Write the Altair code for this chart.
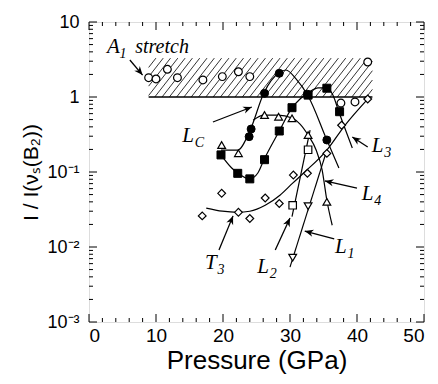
import altair as alt
import pandas as pd
import numpy as np

# ---------------- data ----------------
# A1 stretch (open circles)
a1_x = [8.9, 10.0, 11.7, 13.2, 17.0, 19.9, 22.3, 24.0, 37.6, 39.7, 41.6]
a1_y = [1.81, 1.74, 2.34, 1.81, 1.69, 1.87, 2.17, 1.87, 0.83, 0.86, 2.93]
# Lc (filled circles)
lc_x = [23.9, 24.2, 26.2, 28.4, 32.6, 35.5]
lc_y = [0.296, 0.374, 1.12, 2.07, 1.09, 0.267]
# filled squares
sq_x = [19.7, 22.2, 24.0, 26.2, 28.4, 30.3, 32.7, 35.5, 37.4]
sq_y = [0.169, 0.096, 0.081, 0.146, 0.352, 0.72, 1.06, 1.31, 0.637]
# open up-triangles
tu_x = [19.8, 22.3, 26.2, 28.3, 30.3, 32.7, 35.5]
tu_y = [0.229, 0.178, 0.575, 0.546, 0.52, 0.311, 0.040]
# open squares (L2)
os_x = [30.4, 32.7]
os_y = [0.036, 0.198]
# open down-triangles (L1)
td_x = [30.4, 32.7]
td_y = [0.0072, 0.035]
# open diamonds (T3)
di_x = [16.9, 19.8, 22.3, 24.0, 26.3, 28.4, 30.5, 32.6, 35.5, 37.7, 41.6]
di_y = [0.026, 0.052, 0.029, 0.024, 0.045, 0.038, 0.091, 0.096, 0.177, 0.42, 0.94]

# guide curves
lc_cx = [19.7, 22.2, 24.0, 26.1, 28.4, 29.4, 30.9, 32.7, 35.5, 37.3]
lc_cy = [0.196, 0.196, 0.352, 1.13, 2.12, 2.29, 1.74, 1.03, 0.267, 0.113]
sq_cx = [19.7, 21.3, 22.2, 24.0, 25.2, 26.1, 28.4, 30.3, 31.5, 32.7, 34.2, 35.5, 36.4, 37.3, 39.3]
sq_cy = [0.169, 0.113, 0.097, 0.081, 0.097, 0.145, 0.352, 0.714, 0.94, 1.13, 1.32, 1.32, 1.06, 0.63, 0.209]
tu_cx = [24.5, 26.1, 28.2, 30.3, 31.5, 32.7, 33.9, 34.8, 35.5, 36.3]
tu_cy = [0.49, 0.575, 0.575, 0.525, 0.436, 0.311, 0.196, 0.106, 0.042, 0.0195]
t3_cx = [17.5, 19.9, 22.2, 24.0, 26.3, 28.5, 30.4, 32.2, 35.5, 38.2, 41.6]
t3_cy = [0.033, 0.030, 0.029, 0.030, 0.036, 0.049, 0.071, 0.10, 0.196, 0.42, 0.94]
l1_cx = [30.0, 35.5]
l1_cy = [0.0054, 0.196]
l2_cx = [30.3, 33.0]
l2_cy = [0.0254, 0.363]

# A1 stretch band
band_x = [8.9, 42.3]
band_y = [1.0, 3.3]

# arrows: tail -> head
arr_x1 = [6.1, 18.5, 19.4, 27.8, 36.6, 40.0, 41.6]
arr_y1 = [3.11, 0.464, 0.0091, 0.0091, 0.0128, 0.061, 0.215]
arr_x2 = [8.0, 24.3, 21.5, 30.0, 32.2, 35.2, 39.3]
arr_y2 = [1.96, 0.736, 0.026, 0.0244, 0.0163, 0.076, 0.293]

# labels
lab_main = ["A", "L", "T", "L", "L", "L", "L"]
lab_sub = ["1", "C", "3", "2", "1", "4", "3"]
lab_x = [2.7, 13.9, 17.3, 25.1, 36.7, 40.7, 42.2]
lab_y = [3.86, 0.251, 0.0051, 0.0045, 0.0083, 0.042, 0.185]
stretch_x = [6.9]
stretch_y = [3.86]

x_ticks = [0, 10, 20, 30, 40, 50]
y_ticks = [0.001, 0.01, 0.1, 1, 10]

# ---------------- geometry helpers ----------------
W, H = 335, 300
PXX = W / 50.0
PXY = H / 4.0

# hatch segments inside the band
slope = 1.28
step = 7.3
bw = (band_x[1] - band_x[0]) * PXX
bh = np.log10(band_y[1] / band_y[0]) * PXY
segs = []
c = -bh / slope
while c < bw:
    u0 = max(c, 0.0)
    v0 = (u0 - c) * slope
    u1 = min(c + bh / slope, bw)
    v1 = (u1 - c) * slope
    if u1 > u0:
        segs.append(dict(x=band_x[0] + u0 / PXX, y=band_y[0] * 10 ** (v0 / PXY),
                         x2=band_x[0] + u1 / PXX, y2=band_y[0] * 10 ** (v1 / PXY)))
    c += step
hatch = pd.DataFrame(segs)

arrows = pd.DataFrame(dict(x=arr_x1, y=arr_y1, x2=arr_x2, y2=arr_y2))
arrows["ang"] = [
    float(np.degrees(np.arctan2(-(np.log10(b2) - np.log10(b1)) * PXY, (a2 - a1) * PXX)) % 360)
    for a1, b1, a2, b2 in zip(arr_x1, arr_y1, arr_x2, arr_y2)
]

xs = alt.Scale(domain=[0, 50], nice=False, zero=False)
ys = alt.Scale(type="log", domain=[0.001, 10], nice=False)

XAXIS = alt.Axis(values=x_ticks, ticks=False, domain=False, grid=False, labelFont="Liberation Sans",
                 labelFontSize=19, labelPadding=4, labelColor="black", title="Pressure (GPa)",
                 titleFont="Liberation Sans", titleFontSize=26, titleFontWeight="normal",
                 titleColor="black", titlePadding=2)
YAXIS = alt.Axis(values=y_ticks, ticks=False, domain=False, grid=False, labelFont="Liberation Sans",
                 labelFontSize=18, labelPadding=10, labelColor="black",
                 labelExpr="datum.value >= 10 ? '10' : datum.value >= 1 ? '1' : datum.value >= 0.1 ? '10⁻¹' : datum.value >= 0.01 ? '10⁻²' : '10⁻³'",
                 title="I / I(νₛ(B₂))", titleFont="Liberation Sans", titleFontSize=21,
                 titleFontWeight="normal", titleColor="black", titleX=-48, titleY=150)


def X(f="x"):
    return alt.X(f, type="quantitative", scale=xs, axis=XAXIS, title="Pressure (GPa)")


def Y(f="y"):
    return alt.Y(f, type="quantitative", scale=ys, axis=YAXIS, title="I / I(νₛ(B₂))")


def pts(xv, yv):
    return pd.DataFrame(dict(x=xv, y=yv))


layers = []

# hatch
layers.append(alt.Chart(hatch).mark_rule(color="black", strokeWidth=0.8).encode(
    x=X(), y=Y(), x2="x2", y2="y2"))
# band bottom line
layers.append(alt.Chart(pd.DataFrame(dict(x=[band_x[0]], x2=[band_x[1]], y=[band_y[0]])))
              .mark_rule(color="black", strokeWidth=1.5).encode(x=X(), x2="x2", y=Y()))

# curves
for cx, cy, interp in [(lc_cx, lc_cy, "monotone"), (sq_cx, sq_cy, "monotone"),
                       (tu_cx, tu_cy, "monotone"), (t3_cx, t3_cy, "monotone"),
                       (l1_cx, l1_cy, "linear"), (l2_cx, l2_cy, "linear")]:
    layers.append(alt.Chart(pts(cx, cy)).mark_line(color="black", strokeWidth=1.2,
                                                  interpolate=interp).encode(x=X(), y=Y()))

# markers
layers.append(alt.Chart(pts(a1_x, a1_y)).mark_point(shape="circle", size=60, filled=True,
              fill="white", stroke="black", strokeWidth=1.2, opacity=1).encode(x=X(), y=Y()))
layers.append(alt.Chart(pts(di_x, di_y)).mark_point(shape="diamond", size=60, filled=True,
              fill="white", stroke="black", strokeWidth=1.2, opacity=1).encode(x=X(), y=Y()))
layers.append(alt.Chart(pts(tu_x, tu_y)).mark_point(shape="triangle-up", size=60, filled=True,
              fill="white", stroke="black", strokeWidth=1.2, opacity=1).encode(x=X(), y=Y()))
layers.append(alt.Chart(pts(td_x, td_y)).mark_point(shape="triangle-down", size=60, filled=True,
              fill="white", stroke="black", strokeWidth=1.2, opacity=1).encode(x=X(), y=Y()))
layers.append(alt.Chart(pts(os_x, os_y)).mark_point(shape="square", size=56, filled=True,
              fill="white", stroke="black", strokeWidth=1.2, opacity=1).encode(x=X(), y=Y()))
layers.append(alt.Chart(pts(sq_x, sq_y)).mark_point(shape="square", size=64, filled=True,
              fill="black", stroke="black", strokeWidth=1, opacity=1).encode(x=X(), y=Y()))
layers.append(alt.Chart(pts(lc_x, lc_y)).mark_point(shape="circle", size=64, filled=True,
              fill="black", stroke="black", strokeWidth=1, opacity=1).encode(x=X(), y=Y()))

# arrows
layers.append(alt.Chart(arrows).mark_rule(color="black", strokeWidth=1.3).encode(
    x=X(), y=Y(), x2="x2", y2="y2"))
layers.append(alt.Chart(arrows).mark_point(shape="M0,0L-1,-0.42L-0.7,0L-1,0.42Z", size=300,
              filled=True, fill="black", strokeWidth=0, opacity=1).encode(
    x=X("x2"), y=Y("y2"), angle=alt.Angle("ang:Q", scale=None)))

# labels
labs = pd.DataFrame(dict(m=lab_main, s=lab_sub, x=lab_x, y=lab_y))
layers.append(alt.Chart(labs).mark_text(align="left", baseline="alphabetic", font="Liberation Serif",
              fontStyle="italic", fontSize=21, color="black").encode(x=X(), y=Y(), text="m"))
layers.append(alt.Chart(labs).mark_text(align="left", baseline="alphabetic", font="Liberation Serif",
              fontStyle="italic", fontSize=14, color="black", dx=12.5, dy=5).encode(x=X(), y=Y(), text="s"))
layers.append(alt.Chart(pd.DataFrame(dict(x=stretch_x, y=stretch_y, t=["stretch"]))).mark_text(
    align="left", baseline="alphabetic", font="Liberation Serif", fontStyle="italic", fontSize=20,
    color="black").encode(x=X(), y=Y(), text="t"))

# ticks (inward, on all four sides)
xmaj = pd.DataFrame(dict(x=x_ticks))
xmin = pd.DataFrame(dict(x=[v for v in range(2, 50, 2) if v % 10]))
ymaj = pd.DataFrame(dict(y=y_ticks))
ymin = pd.DataFrame(dict(y=[k * 10.0 ** e for e in range(-3, 1) for k in range(2, 10)]))

layers.append(alt.Chart(xmaj).mark_rule(color="black", strokeWidth=1).encode(
    x=X(), y=alt.value(H), y2=alt.value(H - 8)))
layers.append(alt.Chart(xmaj).mark_rule(color="black", strokeWidth=1).encode(
    x=X(), y=alt.value(0), y2=alt.value(8)))
layers.append(alt.Chart(xmin).mark_rule(color="black", strokeWidth=1).encode(
    x=X(), y=alt.value(H), y2=alt.value(H - 4)))
layers.append(alt.Chart(xmin).mark_rule(color="black", strokeWidth=1).encode(
    x=X(), y=alt.value(0), y2=alt.value(4)))
layers.append(alt.Chart(ymaj).mark_rule(color="black", strokeWidth=1).encode(
    y=Y(), x=alt.value(0), x2=alt.value(8)))
layers.append(alt.Chart(ymaj).mark_rule(color="black", strokeWidth=1).encode(
    y=Y(), x=alt.value(W), x2=alt.value(W - 8)))
layers.append(alt.Chart(ymin).mark_rule(color="black", strokeWidth=1).encode(
    y=Y(), x=alt.value(0), x2=alt.value(4)))
layers.append(alt.Chart(ymin).mark_rule(color="black", strokeWidth=1).encode(
    y=Y(), x=alt.value(W), x2=alt.value(W - 4)))

chart = alt.layer(*layers).properties(
    width=W, height=H,
    padding={"left": 81, "top": 14, "right": 6, "bottom": 54},
    autosize=alt.AutoSizeParams(type="none"),
).configure_view(stroke="black", strokeWidth=1.6).configure(background="white")

chart.save("out.html", embed_options={"renderer": "svg", "actions": False})
